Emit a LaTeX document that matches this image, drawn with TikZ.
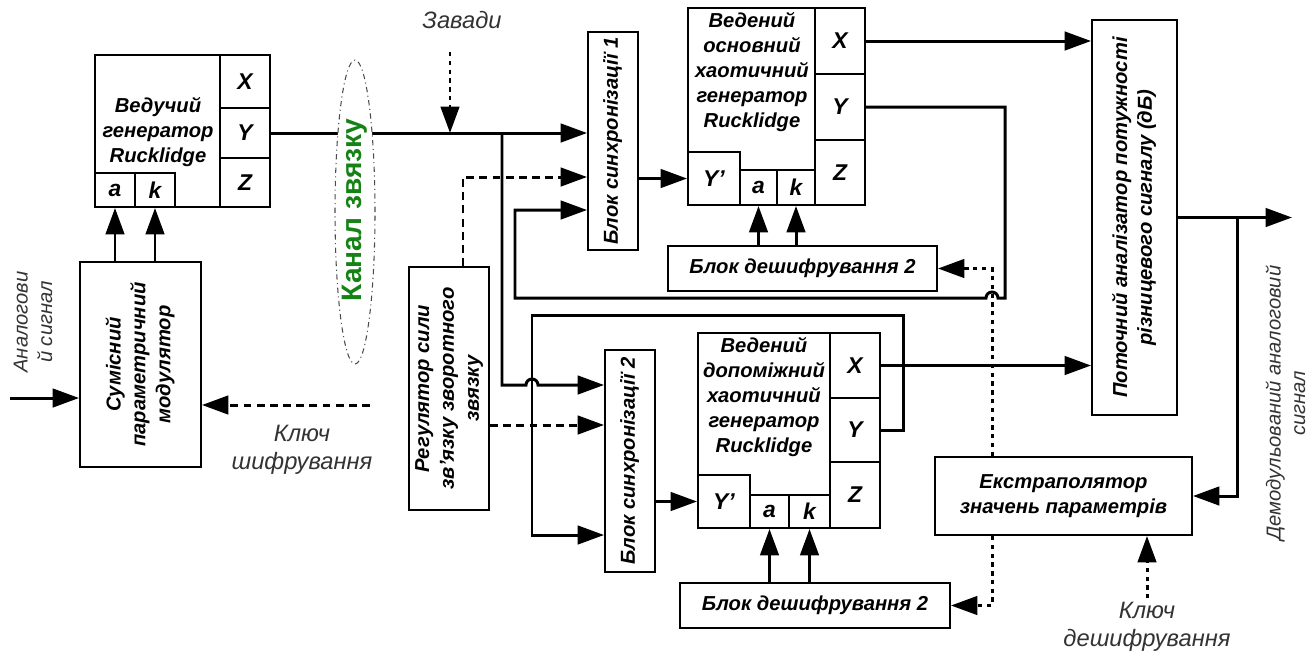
\documentclass[tikz,border=0pt]{standalone}
\usepackage{fontspec}
\setmainfont{Liberation Sans}
\usetikzlibrary{positioning, arrows.meta, shapes.geometric}

\definecolor{chgreen}{RGB}{20,130,20}
\newcommand{\vtext}[1]{\rotatebox{90}{\begin{tabular}{@{}c@{}}#1\end{tabular}}}

\tikzset{
  box/.style 2 args={draw, line width=1.1pt, inner sep=0pt, align=center,
    minimum width={#1*0.02cm}, minimum height={#2*0.02cm},
    font=\bfseries\itshape\fontsize{11.5}{14.2}\selectfont},
  cell/.style 2 args={box={#1}{#2}, font=\bfseries\itshape\fontsize{13}{15}\selectfont},
  gtext/.style={align=center, inner sep=0pt, font=\bfseries\itshape\fontsize{11.5}{14.2}\selectfont},
  lbl/.style={align=center, inner sep=2pt, text=black!80, font=\itshape\fontsize{13.5}{16}\selectfont},
  slbl/.style={align=center, inner sep=0pt, text=black!80, font=\itshape\fontsize{11.5}{14}\selectfont},
  sig/.style={line width=1.7pt, -{Triangle[length=15pt,width=10.5pt]}},
  dsig/.style={sig, dash pattern=on 4.5pt off 3pt},
  dotsig/.style={sig, dash pattern=on 2.5pt off 2.5pt},
}

\begin{document}
\begin{tikzpicture}[x=0.02cm, y=-0.02cm]
  \useasboundingbox (0,0) rectangle (1316,657);

  % master generator
  \node[box={175}{152}] (master) at (182.5,131) {};
  \node[gtext] (mtext) at (158,132) {Ведучий\\генератор\\Rucklidge};
  \node[cell={50}{53}] (mX) at (245,81.5) {X};
  \node[cell={50}{50}] (mY) at (245,133) {Y};
  \node[cell={50}{49}] (mZ) at (245,182.5) {Z};
  \node[cell={40}{34}] (ma) at (115,190) {a};
  \node[cell={40}{34}] (mk) at (155,190) {k};

  % modulator
  \node[box={121}{205}] (modul) at (140.5,364.5) {\vtext{Сумісний\\параметричний\\модулятор}};
  \node[slbl] (ain) at (35,322) {\vtext{Аналогови\\й сигнал}};
  \coordinate (in) at (10,398);
  \draw[sig] (in) -- (in -| modul.west);
  \draw[sig] (ma.south |- modul.north) -- (ma.south);
  \draw[sig] (mk.south |- modul.north) -- (mk.south);
  \coordinate (k1) at (370,405);
  \draw[dsig] (k1) -- (k1 -| modul.east);
  \node[lbl] (key1) at (302,450) {Ключ\\шифрування};

  % sync blocks and regulator
  \node[box={50}{218}] (sync1) at (613,141) {\vtext{Блок синхронізації 1}};
  \node[box={50}{222}] (sync2) at (630,461) {\vtext{Блок синхронізації 2}};
  \node[box={80}{243}] (reg) at (449,388.5) {\vtext{Регулятор сили\\зв'язку зворотного\\звязку}};

  % channel
  \draw[sig] (mY.east) -- (mY.east -| sync1.west);
  \node[draw=black!70, line width=0.6pt, dash dot, fill=white, ellipse, inner sep=0pt,
    minimum width=0.8cm, minimum height=6.08cm] (chan) at (355,212) {};
  \node[text=chgreen, inner sep=0pt, font=\bfseries\fontsize{16}{18}\selectfont] (chanlbl) at (355,210) {\rotatebox{90}{Канал звязку}};
  \node[lbl] (zav) at (462,20) {Завади};
  \coordinate (zt) at (450,52);
  \coordinate (zb) at (450,133);
  \draw[dotsig] (zt) -- (zb);

  % slave main generator
  \node[box={177}{197}] (smain) at (776.5,106.5) {};
  \node[gtext] (stext) at (752,72) {Ведений\\основний\\хаотичний\\генератор\\Rucklidge};
  \node[cell={50}{66}] (sX) at (840,41) {X};
  \node[cell={50}{66}] (sY) at (840,107) {Y};
  \node[cell={50}{65}] (sZ) at (840,172.5) {Z};
  \node[cell={52}{53}] (sYp) at (714,178.5) {Y'};
  \node[cell={37}{35}] (sa) at (758.5,187.5) {a};
  \node[cell={38}{35}] (sk) at (796,187.5) {k};
  \node[box={269}{45}] (dec1) at (802.5,268.5) {Блок дешифрування 2};

  % slave auxiliary generator
  \node[box={182}{195}] (saux) at (789,430.5) {};
  \node[gtext] (atext) at (764,397) {Ведений\\допоміжний\\хаотичний\\генератор\\Rucklidge};
  \node[cell={50}{65}] (aX) at (855,365.5) {X};
  \node[cell={50}{64}] (aY) at (855,430) {Y};
  \node[cell={50}{66}] (aZ) at (855,495) {Z};
  \node[cell={52}{53}] (aYp) at (724,501.5) {Y'};
  \node[cell={39}{33}] (aa) at (769.5,511.5) {a};
  \node[cell={41}{33}] (ak) at (809.5,511.5) {k};
  \node[box={270}{45}] (dec2) at (815,605.5) {Блок дешифрування 2};

  % analyzer, extrapolator
  \node[box={85}{395}] (ana) at (1134.5,217.5) {\vtext{Поточний аналізатор потужності\\різницевого сигналу (дБ)}};
  \node[box={257}{78}] (extr) at (1063.5,496) {Екстраполятор\\значень параметрів};
  \node[lbl] (key2) at (1147,627) {Ключ\\дешифрування};
  \node[slbl] (dem) at (1288,403) {\vtext{Демодульований аналоговий\\сигнал}};

  % connections
  \coordinate (br1) at (502,133);
  \coordinate (s2a) at (sync2.west |- 0,385);
  \draw[sig] (br1) -- (br1 |- s2a) -- (526,385) arc (180:0:0.12cm) -- (s2a);
  \draw[dsig] (reg.north -| 463,0) |- (sync1.west |- 0,177);
  \draw[dsig] (reg.east |- 0,425) -- (sync2.west |- 0,425);
  \draw[sig] (sYp.west -| sync1.east) -- (sYp.west);
  \draw[sig] (aYp.west -| sync2.east) -- (aYp.west);
  \coordinate (s1c) at (sync1.west |- 0,210);
  \draw[sig] (sY.east) -- (sY.east -| 1005,0) -- (1005,298) -- (998,298) arc (0:180:0.12cm) -- (515,298) |- (s1c);
  \coordinate (s2c) at (sync2.west |- 0,535);
  \draw[sig] (aY.east) -| (903,315) -- (532,315) |- (s2c);
  \draw[sig] (sa.south |- dec1.north) -- (sa.south);
  \draw[sig] (sk.south |- dec1.north) -- (sk.south);
  \draw[sig] (aa.south |- dec2.north) -- (aa.south);
  \draw[sig] (ak.south |- dec2.north) -- (ak.south);
  \draw[sig] (sX.east) -- (sX.east -| ana.west);
  \draw[sig] (aX.east) -- (aX.east -| ana.west);
  \coordinate (out) at (1292,217.5);
  \coordinate (br3) at (1237,217.5);
  \draw[sig] (ana.east) -- (out);
  \draw[sig] (br3) |- (extr.east);
  \draw[dotsig] (extr.north -| 992,0) |- (dec1.east);
  \draw[dotsig] (extr.south -| 992,0) |- (dec2.east);
  \draw[dotsig] (key2.north) -- (key2.north |- extr.south);
\end{tikzpicture}
\end{document}
